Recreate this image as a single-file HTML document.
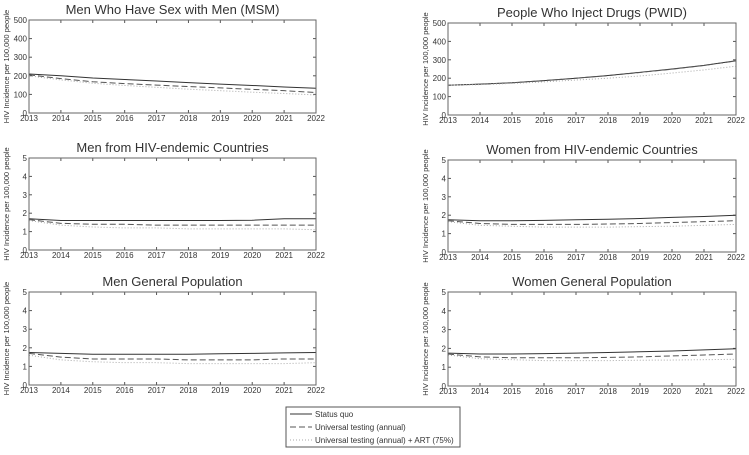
<!DOCTYPE html>
<html><head><meta charset="utf-8"><style>
body{margin:0;background:#fff;width:749px;height:450px;overflow:hidden}
svg text{font-family:"Liberation Sans",sans-serif;fill:#333}
</style></head><body>
<svg id="c" width="749" height="450"></svg>
<script>
const years=[2013,2014,2015,2016,2017,2018,2019,2020,2021,2022];
const titles=["Men Who Have Sex with Men (MSM)","People Who Inject Drugs (PWID)","Men from HIV-endemic Countries","Women from HIV-endemic Countries","Men General Population","Women General Population"];
const yMaxs=[500,500,5,5,5,5];
const statusQuo=[
[210,200,188,180,172,163,155,148,140,133],
[162,168,175,187,200,215,232,250,270,295],
[1.7,1.6,1.6,1.6,1.6,1.6,1.6,1.62,1.7,1.7],
[1.75,1.7,1.7,1.72,1.75,1.78,1.82,1.88,1.93,2.0],
[1.75,1.7,1.65,1.65,1.65,1.65,1.68,1.7,1.73,1.75],
[1.75,1.7,1.7,1.72,1.75,1.78,1.82,1.86,1.92,1.98]];
const universal=[
[205,185,168,158,150,142,135,127,120,110],
[162,167,175,187,200,214,231,249,269,294],
[1.65,1.45,1.4,1.4,1.35,1.35,1.35,1.35,1.35,1.35],
[1.7,1.55,1.5,1.5,1.5,1.52,1.55,1.6,1.65,1.7],
[1.7,1.5,1.4,1.4,1.4,1.35,1.35,1.35,1.4,1.4],
[1.7,1.55,1.5,1.5,1.5,1.52,1.55,1.6,1.65,1.7]];
const universalArt=[
[200,178,160,148,138,128,120,112,105,97],
[162,165,172,180,190,200,212,228,245,265],
[1.6,1.35,1.25,1.2,1.2,1.15,1.15,1.15,1.15,1.1],
[1.65,1.45,1.4,1.35,1.35,1.35,1.38,1.4,1.45,1.5],
[1.6,1.35,1.25,1.2,1.2,1.15,1.15,1.15,1.15,1.2],
[1.65,1.45,1.4,1.35,1.35,1.35,1.37,1.38,1.4,1.42]];
const NS="http://www.w3.org/2000/svg";
const svg=document.getElementById('c');
function mk(t,a,p){const e=document.createElementNS(NS,t);for(const k in a)e.setAttribute(k,a[k]);(p||svg).appendChild(e);return e;}
const boxes=[[29,316,20,113],[448,736,23,115],[29,316,158,250],[448,736,160,252],[29,316,292,385],[448,736,292,386]];
const seriesStyles=[["#333","none",1],["#555","6,3",1],["#aaa","1,2",1]];
boxes.forEach((b,i)=>{
 const [x0,x1,y0,y1]=b;
 const g=mk('g',{});
 
 
 const xs=v=>x0+(v-2013)/(2022-2013)*(x1-x0);
 const ys=v=>y1-v/yMaxs[i]*(y1-y0);
 const t=mk('text',{x:(x0+x1)/2,y:y0-6,'text-anchor':'middle','font-size':13,fill:'#222'},g);t.textContent=titles[i];
 
 const yl=mk('text',{transform:`translate(${x0-20},${(y0+y1)/2}) rotate(-90)`,'text-anchor':'middle','font-size':7.5},g);yl.textContent="HIV Incidence per 100,000 people";
 
 years.forEach(yr=>{const x=xs(yr);mk('line',{x1:x,x2:x,y1:y1,y2:y1-3,stroke:'#555'},g);mk('line',{x1:x,x2:x,y1:y0,y2:y0+3,stroke:'#555'},g);
  const tl=mk('text',{x:x,y:y1+8,'text-anchor':'middle','font-size':8},g);tl.textContent=yr;
  });
 for(let k=0;k<=5;k++){const v=yMaxs[i]/5*k,y=ys(v);mk('line',{x1:x0,x2:x0+3,y1:y,y2:y,stroke:'#555'},g);mk('line',{x1:x1,x2:x1-3,y1:y,y2:y,stroke:'#555'},g);
  const tl=mk('text',{x:x0-2,y:y+3,'text-anchor':'end','font-size':8},g);tl.textContent=v;
  }
 [statusQuo,universal,universalArt].forEach((s,j)=>{
  const st=seriesStyles[j];
  const p=mk('polyline',{points:s[i].map((v,k)=>xs(years[k])+','+ys(v)).join(' '),fill:'none',stroke:st[0],'stroke-dasharray':st[1],'stroke-width':st[2]},g);
  
  
 });
 mk('rect',{x:x0,y:y0,width:x1-x0,height:y1-y0,fill:'none',stroke:'#666'},g);
});
const lg=mk('g',{});

mk('rect',{x:286,y:407,width:174,height:40,fill:'#fff',stroke:'#555'},lg);
["Status quo","Universal testing (annual)","Universal testing (annual) + ART (75%)"].forEach((l,j)=>{
 const y=414+j*13,st=seriesStyles[j];
 mk('line',{x1:290,x2:312,y1:y,y2:y,stroke:st[0],'stroke-dasharray':st[1]},lg);
 const t=mk('text',{x:315,y:y+3,'font-size':8,fill:'#222'},lg);t.textContent=l;
 
});
</script>
</body></html>
